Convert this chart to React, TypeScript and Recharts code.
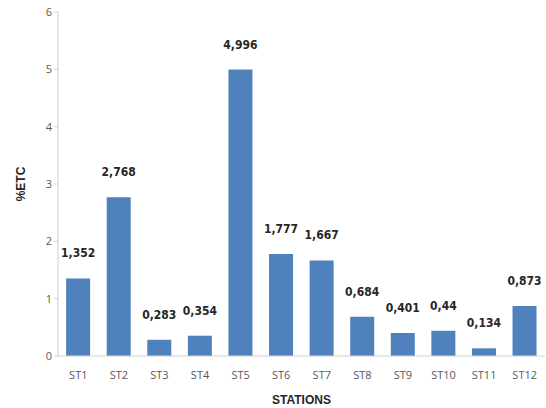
import { Bar, BarChart, LabelList, XAxis, YAxis } from "recharts";

const stations = ["ST1", "ST2", "ST3", "ST4", "ST5", "ST6", "ST7", "ST8", "ST9", "ST10", "ST11", "ST12"];
const etcValues = [1.352, 2.768, 0.283, 0.354, 4.996, 1.777, 1.667, 0.684, 0.401, 0.44, 0.134, 0.873];
const yTicks = [0, 1, 2, 3, 4, 5, 6];

const data = stations.map((name, i) => ({ name, value: etcValues[i] }));

const fmt = (v: number) => String(v).replace(".", ",");

export default function App() {
  return (
    <div style={{ position: "absolute", left: 0, top: 0, background: "#fff" }}>
      <BarChart width={546} height={408} data={data} margin={{ top: 12, right: 1, bottom: 0, left: 0 }} barCategoryGap="20%">
        <XAxis
          dataKey="name"
          height={52}
          tickLine={false}
          axisLine={{ stroke: "#D0D0D0" }}
          tick={{ fontSize: 11, fill: "#595959", fontFamily: "Open Sans, sans-serif" }}
          tickMargin={9}
          label={{ value: "STATIONS", position: "insideBottom", offset: 4, style: { fontSize: 12, fontWeight: "bold", fill: "#262626", fontFamily: "Liberation Sans, Arial, sans-serif" } }}
        />
        <YAxis
          width={58}
          domain={[0, 6]}
          ticks={yTicks}
          tickSize={4}
          tickLine={{ stroke: "#D0D0D0" }}
          axisLine={{ stroke: "#D0D0D0" }}
          tick={{ fontSize: 11, fill: "#595959", fontFamily: "Open Sans, sans-serif" }}
          label={{ value: "%ETC", angle: -90, position: "insideLeft", offset: 21, style: { fontSize: 12, fontWeight: "bold", fill: "#262626", textAnchor: "middle", fontFamily: "Liberation Sans, Arial, sans-serif" } }}
        />
        <Bar dataKey="value" fill="#4F81BD" isAnimationActive={false}>
          <LabelList
            dataKey="value"
            position="top"
            offset={21}
            formatter={(v: any) => fmt(Number(v))}
            style={{ fontSize: 12, fontWeight: "bold", fill: "#262626", fontFamily: "DejaVu Sans, sans-serif", fontStretch: "condensed" }}
          />
        </Bar>
      </BarChart>
    </div>
  );
}
